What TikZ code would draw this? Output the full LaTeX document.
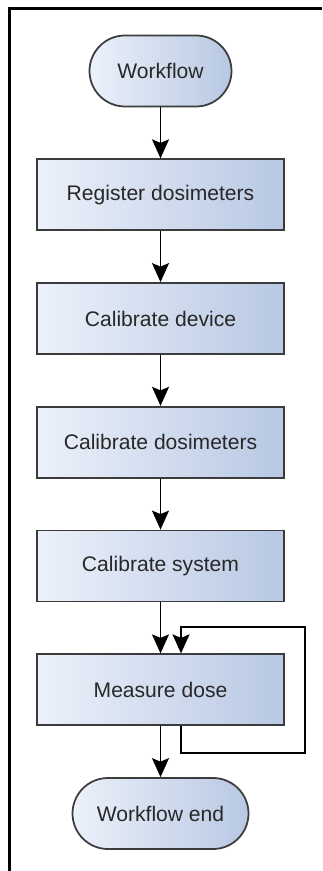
\documentclass[tikz,border=0pt]{standalone}
\usepackage{fontspec}
\setmainfont{Liberation Sans}
\usetikzlibrary{positioning, arrows.meta, calc}
\definecolor{boxleft}{RGB}{236,241,250}
\definecolor{boxright}{RGB}{184,200,227}
\definecolor{boxline}{RGB}{60,60,60}
\definecolor{boxtext}{RGB}{40,40,40}

\begin{document}
\begin{tikzpicture}[node distance={24.75mm}, line width=1pt,
    base/.style = {draw=boxline, left color=boxleft, right color=boxright, text=boxtext,
                   font=\fontsize{12}{14}\selectfont, minimum height=14.2mm, inner sep=0pt},
    main/.style = {base, rectangle, minimum width=49.4mm},
    term/.style = {base, rectangle, rounded corners=7.1mm},
    arr/.style = {-{Stealth[length=3.8mm, width=3.4mm, inset=0.7mm]}}]
    \useasboundingbox (0,0) rectangle (6.44,-17.42);
    % frame
    \draw[line width=1.6pt] (0.19,-17.42) |- (6.44,-0.17);
    \node[term, minimum width=28.4mm] (wf) at (3.21,-1.42) {Workflow};
    \node[main] (reg) [below of=wf] {Register dosimeters};
    \node[main] (cdev) [below of=reg] {Calibrate device};
    \node[main] (cdos) [below of=cdev] {Calibrate dosimeters};
    \node[main] (csys) [below of=cdos] {Calibrate system};
    \node[main] (meas) [below of=csys] {Measure dose};
    \node[term, minimum width=35.2mm] (wfend) [below of=meas] {Workflow end};
    \draw[arr] (wf) -- (reg);
    \draw[arr] (reg) -- (cdev);
    \draw[arr] (cdev) -- (cdos);
    \draw[arr] (cdos) -- (csys);
    \draw[arr] (csys) -- (meas);
    \draw[arr] (meas) -- (wfend);
    % repeat loop
    \draw[arr] ([xshift=4.1mm]meas.south) -- ++(0,-5.4mm)
        -| ([xshift=28.9mm, yshift=5.2mm]meas.north) -| ([xshift=4.1mm]meas.north);
\end{tikzpicture}
\end{document}
